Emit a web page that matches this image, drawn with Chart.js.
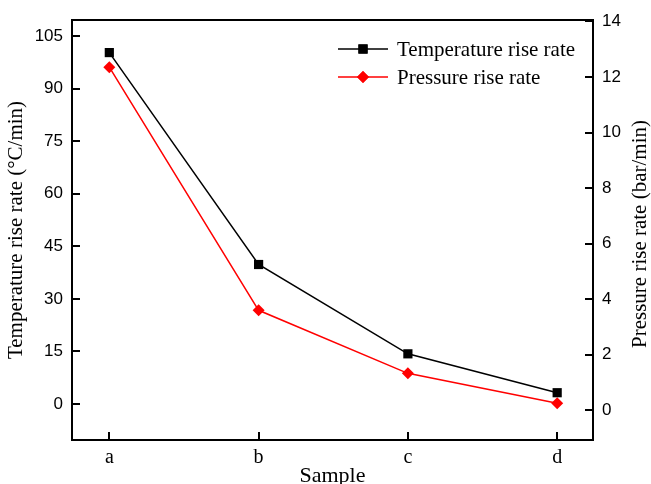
<!DOCTYPE html>
<html>
<head>
<meta charset="utf-8">
<script src="https://cdn.jsdelivr.net/npm/chart.js@4/dist/chart.umd.min.js"></script>
<style>
  html, body { margin: 0; padding: 0; background: #fff; }
  #wrap { width: 651px; height: 484px; }
</style>
</head>
<body>
<div id="wrap"><canvas id="chart" width="651" height="484"></canvas></div>
<script>
// Data
const samples = ['a', 'b', 'c', 'd'];
const tempRise = [100.3, 39.8, 14.3, 3.2];
const pressRise = [12.35, 3.6, 1.33, 0.25];
const leftTicks = [0, 15, 30, 45, 60, 75, 90, 105];
const rightTicks = [0, 2, 4, 6, 8, 10, 12, 14];

const serif = '"Liberation Serif", "Times New Roman", serif';
const sans = '"Liberation Sans", Arial, sans-serif';

// Inward ticks, top frame line, right title and line+marker legend
const decorPlugin = {
    id: 'decor',
    afterDraw(chart) {
        const ctx = chart.ctx;
        const a = chart.chartArea;
        const tl = 8;
        ctx.save();
        ctx.strokeStyle = '#000';
        ctx.lineWidth = 2;
        ctx.beginPath();
        chart.scales.x.ticks.forEach(t => {
            const px = Math.round(chart.scales.x.getPixelForValue(t.value));
            ctx.moveTo(px, a.bottom);
            ctx.lineTo(px, a.bottom - tl);
        });
        chart.scales.y.ticks.forEach(t => {
            const py = Math.round(chart.scales.y.getPixelForValue(t.value));
            ctx.moveTo(a.left, py);
            ctx.lineTo(a.left + tl, py);
        });
        chart.scales.y1.ticks.forEach(t => {
            const py = Math.round(chart.scales.y1.getPixelForValue(t.value));
            ctx.moveTo(a.right, py);
            ctx.lineTo(a.right - tl, py);
        });
        ctx.moveTo(a.left - 1, a.top);
        ctx.lineTo(a.right + 1, a.top);
        ctx.stroke();

        // right axis title, reading bottom to top
        ctx.save();
        ctx.translate(640, (a.top + a.bottom) / 2 + 4);
        ctx.rotate(-Math.PI / 2);
        ctx.fillStyle = '#000';
        ctx.font = '21px ' + serif;
        ctx.textAlign = 'center';
        ctx.textBaseline = 'middle';
        ctx.fillText('Pressure rise rate (bar/min)', 0, 0);
        ctx.restore();

        const rows = [49, 77];
        chart.data.datasets.forEach((ds, i) => {
            const y = rows[i];
            ctx.strokeStyle = ds.borderColor;
            ctx.lineWidth = 1.5;
            ctx.beginPath();
            ctx.moveTo(338, y);
            ctx.lineTo(388, y);
            ctx.stroke();
            ctx.fillStyle = ds.pointBackgroundColor;
            Chart.helpers.drawPoint(ctx, { pointStyle: ds.pointStyle, radius: ds.pointRadius, borderWidth: 0, rotation: 0 }, 363, y);
            ctx.fill();
            ctx.fillStyle = '#000';
            ctx.font = '21px ' + serif;
            ctx.textAlign = 'left';
            ctx.textBaseline = 'middle';
            ctx.fillText(ds.label, 397, y + 1);
        });
        ctx.restore();
    }
};

new Chart(document.getElementById('chart'), {
    type: 'line',
    data: {
        datasets: [{
            label: 'Temperature rise rate',
            data: tempRise.map((v, i) => ({ x: i, y: v })),
            yAxisID: 'y',
            borderColor: '#000000',
            backgroundColor: '#000000',
            pointBackgroundColor: '#000000',
            pointStyle: 'rect',
            pointRadius: 6.5,
            pointBorderWidth: 0,
            borderWidth: 1.5,
            tension: 0
        }, {
            label: 'Pressure rise rate',
            data: pressRise.map((v, i) => ({ x: i, y: v })),
            yAxisID: 'y1',
            borderColor: '#ff0000',
            backgroundColor: '#ff0000',
            pointBackgroundColor: '#ff0000',
            pointStyle: 'rectRot',
            pointRadius: 6,
            pointBorderWidth: 0,
            borderWidth: 1.5,
            tension: 0
        }]
    },
    options: {
        responsive: false,
        animation: false,
        layout: { padding: { top: 20, left: 0, right: 0, bottom: 0 } },
        plugins: { legend: { display: false }, tooltip: { enabled: false } },
        scales: {
            x: {
                type: 'linear',
                min: -0.25,
                max: 3.24,
                afterBuildTicks: s => { s.ticks = samples.map((c, i) => ({ value: i })); },
                afterFit: s => { s.height = 44; s.paddingLeft = 0; s.paddingRight = 0; },
                ticks: {
                    callback: v => samples[v],
                    color: '#000',
                    font: { family: serif, size: 20 },
                    padding: 6,
                    maxRotation: 0
                },
                grid: { drawOnChartArea: false, drawTicks: false },
                border: { color: '#000', width: 2 },
                title: {
                    display: true,
                    text: 'Sample',
                    color: '#000',
                    font: { family: serif, size: 22, lineHeight: 1 },
                    padding: { top: 0, bottom: -3 }
                }
            },
            y: {
                position: 'left',
                min: -10.3,
                max: 109.6,
                afterBuildTicks: s => { s.ticks = leftTicks.map(v => ({ value: v })); },
                afterFit: s => { s.width = 72; s.paddingTop = 0; s.paddingBottom = 0; },
                ticks: { color: '#000', font: { family: sans, size: 17 }, padding: 9 },
                grid: { drawOnChartArea: false, drawTicks: false },
                border: { color: '#000', width: 2 },
                title: {
                    display: true,
                    text: 'Temperature rise rate (°C/min)',
                    color: '#000',
                    font: { family: serif, size: 21, lineHeight: 1.2 },
                    padding: { top: 4, bottom: 0 }
                }
            },
            y1: {
                position: 'right',
                min: -1.07,
                max: 14.05,
                afterBuildTicks: s => { s.ticks = rightTicks.map(v => ({ value: v })); },
                afterFit: s => { s.width = 58; s.paddingTop = 0; s.paddingBottom = 0; },
                ticks: { color: '#000', font: { family: sans, size: 17 }, padding: 9 },
                grid: { drawOnChartArea: false, drawTicks: false },
                border: { color: '#000', width: 2 }
            }
        }
    },
    plugins: [decorPlugin]
});
</script>
</body>
</html>
